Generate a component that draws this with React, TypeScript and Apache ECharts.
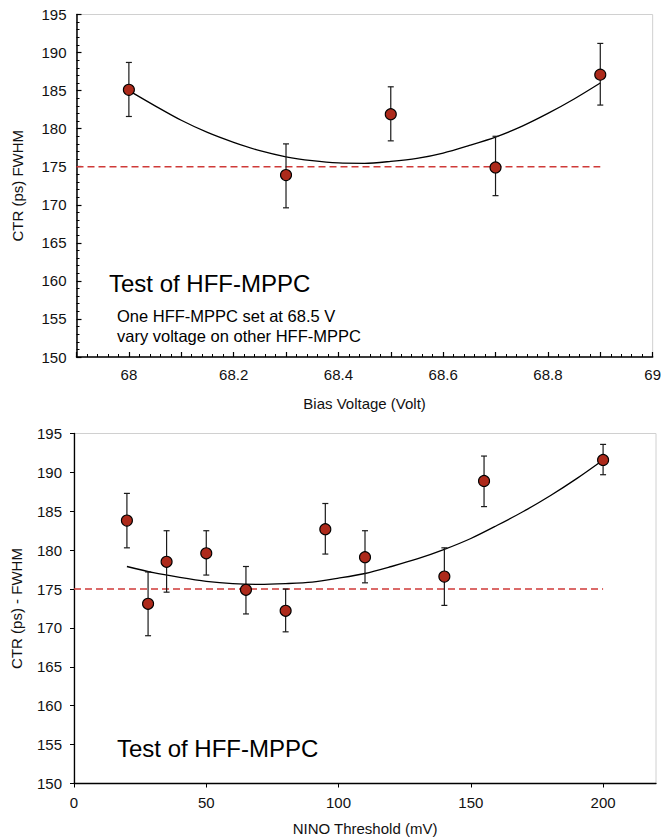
import React, { useEffect, useRef } from "react";
import * as echarts from "echarts";

// ---- Top chart: CTR vs bias voltage ----
const topX = [68, 68.3, 68.5, 68.7, 68.9];
const topY = [185.1, 173.9, 181.9, 174.9, 187.1];
const topErrLow = [181.6, 169.6, 178.4, 171.2, 183.1];
const topErrHigh = [188.7, 178.0, 185.5, 179.0, 191.2];
// fitted trend curve
const topFitX = [68, 68.05, 68.1, 68.15, 68.2, 68.25, 68.3, 68.35, 68.4, 68.45, 68.5, 68.55, 68.6, 68.65, 68.7, 68.75, 68.8, 68.85, 68.9];
const topFitY = [185.0, 183.0, 181.1, 179.5, 178.2, 177.1, 176.3, 175.8, 175.5, 175.45, 175.7, 176.1, 176.8, 177.8, 178.9, 180.3, 182.0, 183.9, 186.0];
const topRefX = [67.9, 68.9];

// ---- Bottom chart: CTR vs NINO threshold ----
const botX = [20, 28, 35, 50, 65, 80, 95, 110, 140, 155, 200];
const botY = [183.8, 173.1, 178.5, 179.6, 174.9, 172.2, 182.7, 179.1, 176.6, 188.9, 191.6];
const botErrLow = [180.3, 169.0, 174.6, 176.8, 171.8, 169.5, 179.5, 175.8, 172.9, 185.6, 189.7];
const botErrHigh = [187.3, 177.2, 182.5, 182.5, 177.9, 175.0, 186.0, 182.5, 180.3, 192.1, 193.6];
// fitted trend curve
const botFitX = [20, 30, 40, 50, 60, 70, 80, 90, 100, 110, 120, 130, 140, 150, 160, 170, 180, 190, 200];
const botFitY = [177.9, 177.1, 176.5, 176.0, 175.7, 175.6, 175.7, 175.9, 176.4, 177.0, 177.9, 178.9, 180.1, 181.5, 183.2, 185.0, 187.0, 189.2, 191.6];
const botRefX = [0, 200];

const refLevel = 175;

const titleText = "Test of HFF-MPPC";
const noteLines = ["One HFF-MPPC set at 68.5 V", "vary voltage on other HFF-MPPC"];
const topXName = "Bias Voltage (Volt)";
const topYName = "CTR (ps) FWHM";
const botXName = "NINO Threshold (mV)";
const botYName = "CTR (ps) - FWHM";

const FONT = "Liberation Sans, Arial, sans-serif";
const DOT = "#ad2a1b";
const REF = "#cf3a38";

function errorRender(params: any, api: any) {
  const x = api.value(0);
  const lo = api.value(1);
  const hi = api.value(2);
  const a = api.coord([x, hi]);
  const b = api.coord([x, lo]);
  const w = 3;
  const st = { stroke: "#1a1a1a", lineWidth: 1.2 };
  return {
    type: "group",
    children: [
      { type: "line", shape: { x1: a[0], y1: a[1], x2: b[0], y2: b[1] }, style: st },
      { type: "line", shape: { x1: a[0] - w, y1: a[1], x2: a[0] + w, y2: a[1] }, style: st },
      { type: "line", shape: { x1: b[0] - w, y1: b[1], x2: b[0] + w, y2: b[1] }, style: st },
    ],
  };
}

export default function App() {
  const ref = useRef<HTMLDivElement>(null);
  useEffect(() => {
    if (!ref.current) return;
    const chart = echarts.init(ref.current, null, { renderer: "svg" });
    const labelStyle = { color: "#111", fontSize: 15, fontFamily: FONT };
    const nameStyle = { color: "#111", fontSize: 15, fontFamily: FONT };
    const option: any = {
      animation: false,
      backgroundColor: "#ffffff",
      grid: [
        {
          left: 76.5,
          top: 14.5,
          width: 580.5,
          height: 342.5,
          show: true,
          borderColor: "#d0d0d0",
          borderWidth: 1,
        },
        {
          left: 74,
          top: 433.5,
          width: 582,
          height: 350,
          show: true,
          borderColor: "#d0d0d0",
          borderWidth: 1,
        },
      ],
      xAxis: [
        {
          type: "value",
          gridIndex: 0,
          min: 67.9,
          max: 69,
          interval: 0.1,
          name: topXName,
          nameLocation: "middle",
          nameGap: 39,
          nameTextStyle: nameStyle,
          axisLine: { show: true, lineStyle: { color: "#000", width: 1.5 } },
          axisTick: { show: true, inside: true, length: 5, lineStyle: { color: "#000", width: 1.2 } },
          minorTick: { show: true, splitNumber: 5, length: 3, lineStyle: { color: "#000", width: 1 } },
          splitLine: { show: false },
          axisLabel: {
            ...labelStyle,
            margin: 10,
            formatter: (v: number) => {
              const k = Math.round(v * 10);
              if (k % 2 !== 0) return "";
              return String(parseFloat((k / 10).toFixed(1)));
            },
          },
        },
        {
          type: "value",
          gridIndex: 1,
          min: 0,
          max: 220,
          interval: 50,
          name: botXName,
          nameLocation: "middle",
          nameGap: 37,
          nameTextStyle: nameStyle,
          axisLine: { show: true, lineStyle: { color: "#000", width: 1.3 } },
          axisTick: { show: true, inside: false, length: 4, lineStyle: { color: "#000", width: 1 } },
          splitLine: { show: false },
          axisLabel: { ...labelStyle, margin: 11, showMaxLabel: false },
        },
      ],
      yAxis: [
        {
          type: "value",
          gridIndex: 0,
          min: 150,
          max: 195,
          interval: 5,
          name: topYName,
          nameLocation: "middle",
          nameGap: 52,
          nameTextStyle: nameStyle,
          axisLine: { show: true, lineStyle: { color: "#000", width: 1.5 } },
          axisTick: { show: true, inside: true, length: 5, lineStyle: { color: "#000", width: 1.2 } },
          minorTick: { show: true, splitNumber: 5, length: 3, lineStyle: { color: "#000", width: 1 } },
          splitLine: { show: false },
          axisLabel: { ...labelStyle, margin: 10 },
        },
        {
          type: "value",
          gridIndex: 1,
          min: 150,
          max: 195,
          interval: 5,
          name: botYName,
          nameLocation: "middle",
          nameGap: 50,
          nameTextStyle: nameStyle,
          axisLine: { show: true, lineStyle: { color: "#000", width: 1.3 } },
          axisTick: { show: true, inside: false, length: 4, lineStyle: { color: "#000", width: 1 } },
          splitLine: { show: false },
          axisLabel: { ...labelStyle, margin: 12 },
        },
      ],
      series: [
        {
          type: "line",
          xAxisIndex: 0,
          yAxisIndex: 0,
          data: topRefX.map((x) => [x, refLevel]),
          showSymbol: false,
          lineStyle: { color: REF, width: 1.4, type: [7, 4] },
          z: 1,
        },
        {
          type: "line",
          xAxisIndex: 0,
          yAxisIndex: 0,
          data: topFitX.map((x, i) => [x, topFitY[i]]),
          smooth: 0.3,
          showSymbol: false,
          lineStyle: { color: "#000", width: 1.3 },
          z: 2,
        },
        {
          type: "custom",
          xAxisIndex: 0,
          yAxisIndex: 0,
          renderItem: errorRender,
          encode: { x: 0, y: [1, 2] },
          data: topX.map((x, i) => [x, topErrLow[i], topErrHigh[i]]),
          z: 3,
        },
        {
          type: "scatter",
          xAxisIndex: 0,
          yAxisIndex: 0,
          data: topX.map((x, i) => [x, topY[i]]),
          symbol: "circle",
          symbolSize: 11,
          itemStyle: { color: DOT, borderColor: "#000", borderWidth: 1.1, opacity: 1 },
          z: 4,
        },
        {
          type: "line",
          xAxisIndex: 1,
          yAxisIndex: 1,
          data: botRefX.map((x) => [x, refLevel]),
          showSymbol: false,
          lineStyle: { color: REF, width: 1.4, type: [7, 4] },
          z: 1,
        },
        {
          type: "line",
          xAxisIndex: 1,
          yAxisIndex: 1,
          data: botFitX.map((x, i) => [x, botFitY[i]]),
          smooth: 0.3,
          showSymbol: false,
          lineStyle: { color: "#000", width: 1.3 },
          z: 2,
        },
        {
          type: "custom",
          xAxisIndex: 1,
          yAxisIndex: 1,
          renderItem: errorRender,
          encode: { x: 0, y: [1, 2] },
          data: botX.map((x, i) => [x, botErrLow[i], botErrHigh[i]]),
          z: 3,
        },
        {
          type: "scatter",
          xAxisIndex: 1,
          yAxisIndex: 1,
          data: botX.map((x, i) => [x, botY[i]]),
          symbol: "circle",
          symbolSize: 11,
          itemStyle: { color: DOT, borderColor: "#000", borderWidth: 1.1, opacity: 1 },
          z: 4,
        },
      ],
      graphic: [
        {
          type: "text",
          left: 109,
          top: 271,
          style: { text: titleText, fontSize: 24, fontFamily: FONT, fill: "#000" },
        },
        {
          type: "text",
          left: 117,
          top: 306,
          style: { text: noteLines.join("\n"), fontSize: 16.5, lineHeight: 20, fontFamily: FONT, fill: "#000" },
        },
        {
          type: "text",
          left: 117,
          top: 736,
          style: { text: titleText, fontSize: 24, fontFamily: FONT, fill: "#000" },
        },
      ],
    };
    chart.setOption(option);
    return () => chart.dispose();
  }, []);
  return (
    <div
      ref={ref}
      style={{ position: "fixed", left: 0, top: 0, width: 664, height: 838, background: "#fff" }}
    />
  );
}
